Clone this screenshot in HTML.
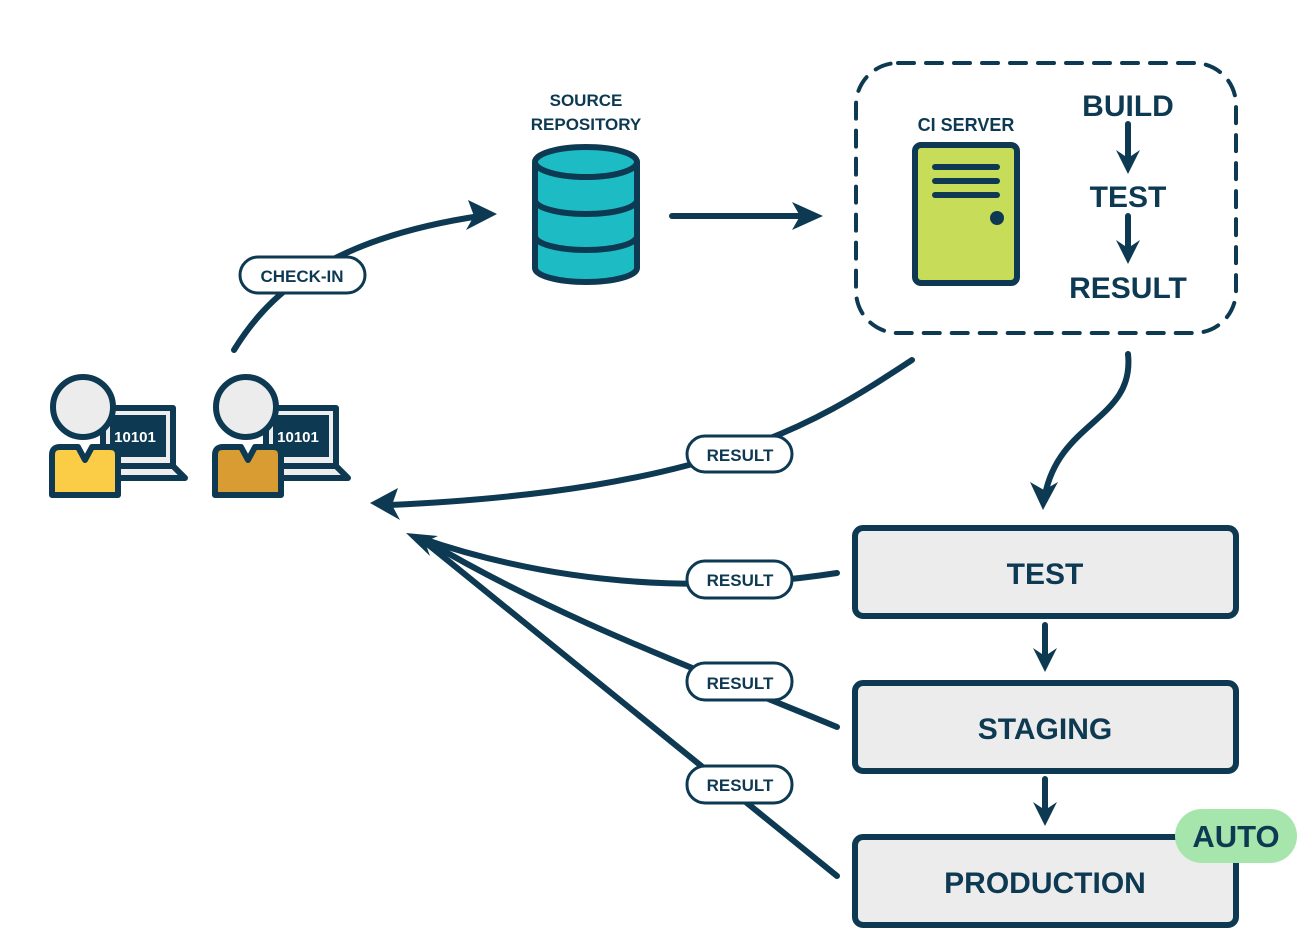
<!DOCTYPE html>
<html><head><meta charset="utf-8"><style>
html,body{margin:0;padding:0;background:#fff;width:1306px;height:946px;overflow:hidden}
text{font-family:"Liberation Sans",sans-serif;font-weight:bold;fill:#0d3a52}
</style></head><body>
<svg width="1306" height="946" viewBox="0 0 1306 946" xmlns="http://www.w3.org/2000/svg">
<g stroke="#0d3a52" fill="none" stroke-linecap="round" stroke-width="6">
<rect x="856" y="63" width="380" height="270" rx="42" stroke-width="4" stroke-dasharray="16,12"/>
<path d="M234 350 C265 300 320 240 480 216"/>
<path d="M672 216 L805 216"/>
<path d="M912 360 C820 420 720 490 390 505"/>
<path d="M1128 354 C1135 420 1060 420 1045 495"/>
<path d="M837 573 C760 585 600 600 420 538"/>
<path d="M837 727 C700 670 560 620 425 540"/>
<path d="M837 876 L425 542"/>
<path d="M1128 124 L1128 162"/>
<path d="M1128 216 L1128 252"/>
<path d="M1045 625 L1045 660"/>
<path d="M1045 779 L1045 814"/>
</g>
<g fill="#0d3a52">
<polygon points="497,214 468,200 474,216 466,230"/>
<polygon points="823,216 792,202 800,216 792,230"/>
<polygon points="370,503 398,488 392,505 400,520"/>
<polygon points="1043,510 1030,482 1044,490 1058,482"/>
<polygon points="406,533 438,536 425,542 430,556"/>
<polygon points="1128,174 1116,150 1128,158 1140,150"/>
<polygon points="1128,264 1116,240 1128,248 1140,240"/>
<polygon points="1045,672 1033,648 1045,656 1057,648"/>
<polygon points="1045,826 1033,802 1045,810 1057,802"/>
</g>
<g fill="#fff" stroke="#0d3a52" stroke-width="3">
<rect x="240" y="257" width="125" height="36" rx="18"/>
<rect x="687" y="436" width="105" height="36" rx="18"/>
<rect x="687" y="561" width="105" height="37" rx="18"/>
<rect x="687" y="663" width="105" height="37" rx="18"/>
<rect x="687" y="766" width="105" height="37" rx="18"/>
</g>
<text x="302" y="282" font-size="17" text-anchor="middle">CHECK-IN</text>
<text x="740" y="461" font-size="17" text-anchor="middle">RESULT</text>
<text x="740" y="586" font-size="17" text-anchor="middle">RESULT</text>
<text x="740" y="689" font-size="17" text-anchor="middle">RESULT</text>
<text x="740" y="791" font-size="17" text-anchor="middle">RESULT</text>
<g stroke="#0d3a52" stroke-width="6" fill="#1dbcc4">
<path d="M535 162 L535 268 A51 14 0 0 0 637 268 L637 162"/>
<path d="M535 200 A51 14 0 0 0 637 200" fill="none"/>
<path d="M535 236 A51 14 0 0 0 637 236" fill="none"/>
<ellipse cx="586" cy="162" rx="51" ry="15"/>
</g>
<text x="586" y="106" font-size="17" text-anchor="middle">SOURCE</text>
<text x="586" y="130" font-size="17" text-anchor="middle">REPOSITORY</text>
<rect x="915" y="145" width="102" height="138" rx="6" fill="#c7dc58" stroke="#0d3a52" stroke-width="6"/>
<g stroke="#0d3a52" stroke-width="6" stroke-linecap="round">
<line x1="935" y1="167" x2="997" y2="167"/><line x1="935" y1="181" x2="997" y2="181"/><line x1="935" y1="195" x2="997" y2="195"/>
</g>
<circle cx="997" cy="218" r="7" fill="#0d3a52"/>
<text x="966" y="131" font-size="18" text-anchor="middle">CI SERVER</text>
<text x="1128" y="116" font-size="30" text-anchor="middle">BUILD</text>
<text x="1128" y="207" font-size="30" text-anchor="middle">TEST</text>
<text x="1128" y="298" font-size="30" text-anchor="middle">RESULT</text>
<g fill="#ececec" stroke="#0d3a52" stroke-width="6">
<rect x="855" y="528" width="381" height="88" rx="8"/>
<rect x="855" y="683" width="381" height="88" rx="8"/>
<rect x="855" y="837" width="381" height="88" rx="8"/>
</g>
<text x="1045" y="584" font-size="30" text-anchor="middle">TEST</text>
<text x="1045" y="739" font-size="30" text-anchor="middle">STAGING</text>
<text x="1045" y="893" font-size="30" text-anchor="middle">PRODUCTION</text>
<rect x="1175" y="809" width="122" height="54" rx="27" fill="#a6e6ad"/>
<text x="1236" y="847" font-size="31" text-anchor="middle">AUTO</text>
<g stroke="#0d3a52" stroke-width="6" stroke-linejoin="round">
<g>
<rect x="103" y="408" width="70" height="58" fill="#eee"/>
<rect x="110" y="415" width="56" height="42" fill="#0d3a52" stroke="none"/>
<path d="M103 466 L173 466 L185 478 L97 478 Z" fill="#eee"/>
<path d="M52 455 Q52 447 60 447 L78 447 L85 460 L92 447 L110 447 Q118 447 118 455 L118 495 L52 495 Z" fill="#fbcd46"/>
<circle cx="83" cy="407" r="30" fill="#ececec"/>
</g>
<g transform="translate(163,0)">
<rect x="103" y="408" width="70" height="58" fill="#eee"/>
<rect x="110" y="415" width="56" height="42" fill="#0d3a52" stroke="none"/>
<path d="M103 466 L173 466 L185 478 L97 478 Z" fill="#eee"/>
<path d="M52 455 Q52 447 60 447 L78 447 L85 460 L92 447 L110 447 Q118 447 118 455 L118 495 L52 495 Z" fill="#d99c32"/>
<circle cx="83" cy="407" r="30" fill="#ececec"/>
</g>
</g>
<text x="135" y="442" font-size="15" text-anchor="middle" style="fill:#fff">10101</text>
<text x="298" y="442" font-size="15" text-anchor="middle" style="fill:#fff">10101</text>
</svg>
</body></html>
